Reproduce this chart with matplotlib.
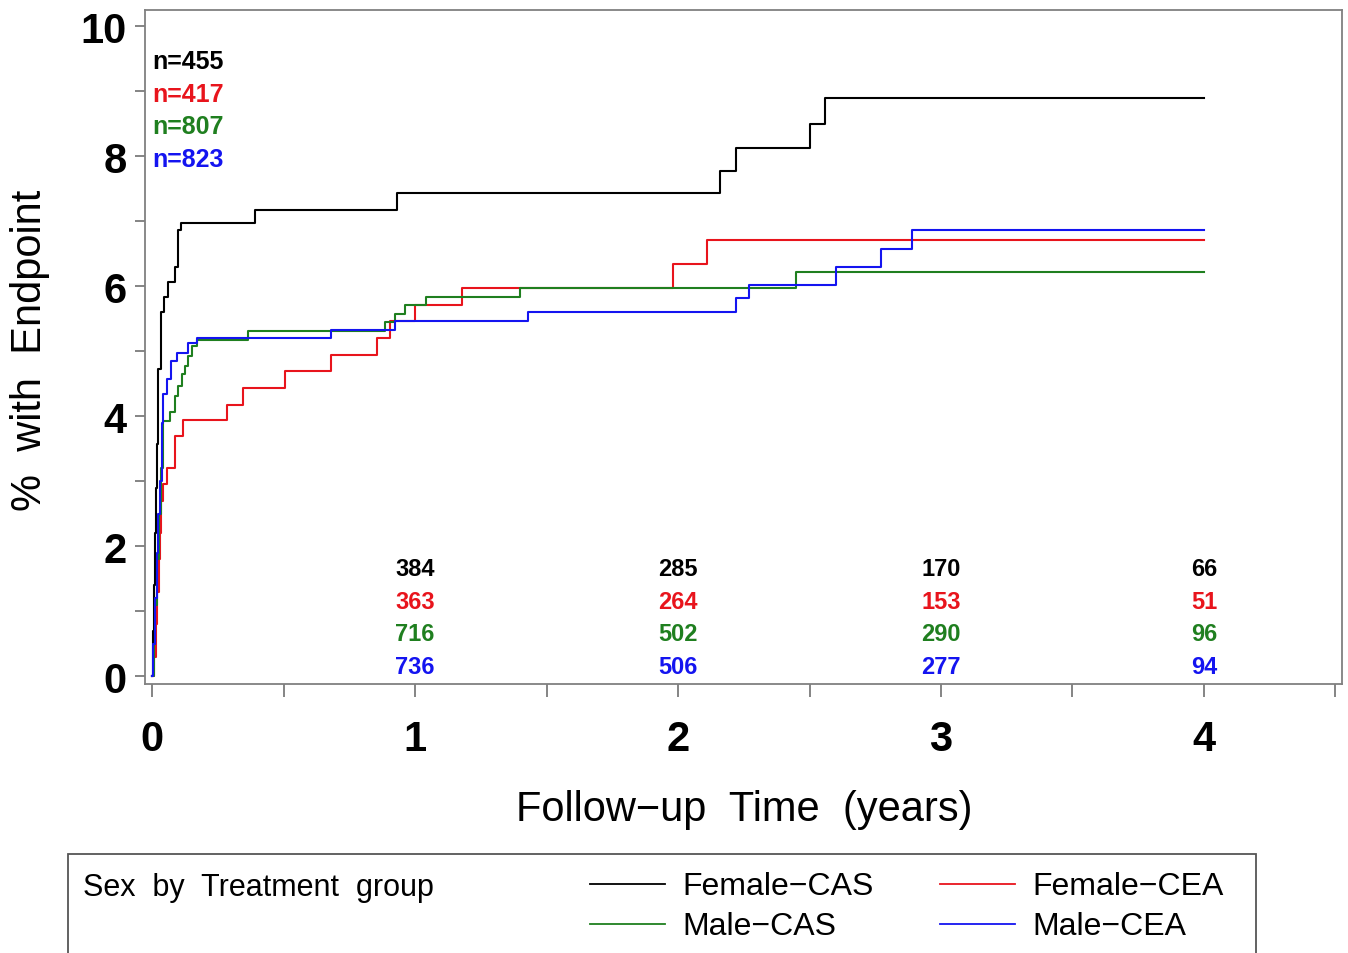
import matplotlib
matplotlib.use('Agg')
import matplotlib.pyplot as plt
from matplotlib.patches import Rectangle
from matplotlib.lines import Line2D

NARROW = ['Liberation Sans Narrow', 'Liberation Sans', 'DejaVu Sans']

# cumulative % with endpoint, step times (years) and values
fcas_t = [0, 0.004, 0.008, 0.011, 0.015, 0.019, 0.023, 0.034, 0.046, 0.061, 0.087, 0.097, 0.10, 0.11,
          0.39, 0.93, 2.16, 2.22, 2.50, 2.56, 4.0]
fcas_y = [0, 0.7, 1.4, 2.2, 2.9, 3.57, 4.72, 5.6, 5.84, 6.06, 6.29, 6.72, 6.87, 6.97,
          7.18, 7.43, 7.77, 8.12, 8.5, 8.9, 8.9]

fcea_t = [0, 0.008, 0.014, 0.02, 0.026, 0.03, 0.034, 0.043, 0.056, 0.087, 0.119, 0.285, 0.345, 0.505,
          0.68, 0.855, 0.905, 1.0, 1.18, 1.98, 2.11, 4.0]
fcea_y = [0, 0.3, 0.8, 1.3, 1.8, 2.21, 2.7, 2.95, 3.21, 3.69, 3.94, 4.18, 4.44, 4.69,
          4.94, 5.2, 5.46, 5.71, 5.98, 6.34, 6.71, 6.71]

mcas_t = [0, 0.006, 0.012, 0.02, 0.028, 0.035, 0.042, 0.068, 0.087, 0.099, 0.113, 0.125, 0.138, 0.15,
          0.17, 0.365, 0.885, 0.925, 0.96, 1.04, 1.40, 2.45, 4.0]
mcas_y = [0, 0.5, 1.1, 1.8, 2.5, 3.2, 3.93, 4.06, 4.31, 4.47, 4.65, 4.77, 4.93, 5.08,
          5.18, 5.31, 5.45, 5.57, 5.71, 5.84, 5.98, 6.22, 6.22]

mcea_t = [0, 0.004, 0.01, 0.018, 0.024, 0.03, 0.036, 0.042, 0.056, 0.072, 0.094, 0.137, 0.17,
          0.68, 0.925, 1.43, 2.22, 2.27, 2.60, 2.77, 2.89, 4.0]
mcea_y = [0, 0.5, 1.2, 1.9, 2.5, 3.0, 3.9, 4.34, 4.57, 4.85, 4.97, 5.12, 5.21,
          5.32, 5.46, 5.6, 5.82, 6.02, 6.29, 6.57, 6.86, 6.86]

groups = ['Female\u2212CAS', 'Female\u2212CEA', 'Male\u2212CAS', 'Male\u2212CEA']
colors = ['black', '#e8141c', '#1f7f1f', '#1414f0']
n_total = [455, 417, 807, 823]

# numbers at risk
risk_times = [1, 2, 3, 4]
risk_fcas = [384, 285, 170, 66]
risk_fcea = [363, 264, 153, 51]
risk_mcas = [716, 502, 290, 96]
risk_mcea = [736, 506, 277, 94]

curves = [(fcas_t, fcas_y), (fcea_t, fcea_y), (mcas_t, mcas_y), (mcea_t, mcea_y)]
risks = [risk_fcas, risk_fcea, risk_mcas, risk_mcea]

W, H = 1348, 954
fig = plt.figure(figsize=(W / 100, H / 100), dpi=100)
ax = fig.add_axes([145 / W, 1 - 685 / H, (1342 - 145) / W, (685 - 11) / H])

for (t, y), c in zip(curves, colors):
    ax.step(t, y, where='post', color=c, lw=1.5)

ax.set_xlim(-0.027, 4.525)
ax.set_ylim(-0.12, 10.25)
ax.set_xticks([0, 1, 2, 3, 4])
ax.set_xticks([0.5, 1.5, 2.5, 3.5, 4.5], minor=True)
ax.set_yticks([0, 2, 4, 6, 8, 10])
ax.set_yticks([1, 3, 5, 7, 9], minor=True)
ax.tick_params(axis='x', which='both', length=9, width=1.2, color='#707070', pad=16)
ax.tick_params(axis='y', which='both', length=7, width=1.2, color='#707070', pad=6)
for lab in ax.get_xticklabels() + ax.get_yticklabels():
    lab.set_family(NARROW)
    lab.set_fontsize(30)
    lab.set_fontweight('bold')
for s in ax.spines.values():
    s.set_color('#808080')
    s.set_linewidth(1.3)

# n= labels
n_y = [9.46, 8.95, 8.46, 7.95]
for n, yy, c in zip(n_total, n_y, colors):
    ax.text(0.0, yy, 'n=%d' % n, color=c, fontsize=18, family=NARROW, fontweight='bold',
            ha='left', va='center')

# numbers at risk
row_y = [1.65, 1.15, 0.65, 0.15]
for r, yy, c in zip(risks, row_y, colors):
    for tt, v in zip(risk_times, r):
        ax.text(tt, yy, str(v), color=c, fontsize=17, family=NARROW, fontweight='bold',
                ha='center', va='center')

fig.text(30 / W, 1 - 350 / H, '%  with  Endpoint', rotation=90, fontsize=30, family=NARROW,
         ha='center', va='center')
fig.text(744 / W, 1 - 810 / H, 'Follow\u2212up  Time  (years)', fontsize=30, family=NARROW,
         ha='center', va='center')

# legend box
fig.patches.append(Rectangle((68 / W, -0.05), (1256 - 68) / W, 0.05 + 1 - 855 / H,
                             transform=fig.transFigure, fill=False, edgecolor='#555555', lw=1.3))
fig.text(83 / W, 1 - 888 / H, 'Sex  by  Treatment  group', fontsize=22, family=NARROW,
         ha='left', va='center')
leg_pos = [(590, 885), (940, 885), (590, 925), (940, 925)]
for (lx, ly), g, c in zip(leg_pos, groups, colors):
    fig.lines.append(Line2D([lx / W, (lx + 75) / W], [1 - ly / H, 1 - ly / H],
                            transform=fig.transFigure, color=c, lw=1.3))
    fig.text((lx + 92) / W, 1 - (ly + 2) / H, g, fontsize=23, family=NARROW, ha='left', va='center')

fig.savefig('out.png', dpi=100)
